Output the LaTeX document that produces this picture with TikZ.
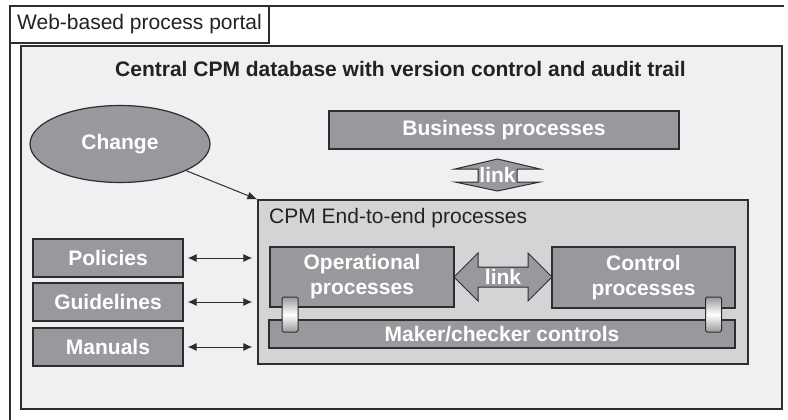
\documentclass[tikz,border=0pt]{standalone}
\usepackage{fontspec}
\setmainfont{Liberation Sans}
\usetikzlibrary{arrows.meta}
\usetikzlibrary{shapes.geometric}

\definecolor{dbgray}{HTML}{EFF0F2}
\definecolor{cpmgray}{HTML}{D3D4D6}
\definecolor{boxgray}{HTML}{98999C}
\definecolor{edgegray}{HTML}{2E2E2E}
\definecolor{textgray}{HTML}{222222}

\begin{document}
\begin{tikzpicture}[x=1pt, y=-1pt,
    every node/.style={font=\fontsize{21}{25}\selectfont, text=textgray, inner sep=0pt},
    darkbox/.style={rectangle, draw=edgegray, fill=boxgray, line width=1.2pt, text=white,
      font=\fontsize{21}{25}\selectfont\bfseries, align=center},
    hinge/.style={rectangle, draw=edgegray, line width=1pt, rounded corners=1.5pt,
      top color=gray!80, bottom color=gray!80, middle color=white,
      minimum width=16, minimum height=35},
    linkshape/.style={draw=edgegray, fill=boxgray, line width=1pt, line join=miter},
    linktext/.style={text=white, font=\fontsize{21}{25}\selectfont\bfseries},
    docarrow/.style={{Latex[length=9pt,width=8pt]}-{Latex[length=9pt,width=8pt]}, line width=1pt, edgegray}]
    \useasboundingbox (0,0) rectangle (788,420);

    % portal frame and database
    \draw[edgegray, line width=1.3pt] (10,425) -- (10,6) -- (784,6);
    \node[rectangle, draw=edgegray, fill=dbgray, line width=1.3pt, minimum width=761, minimum height=363] (db) at (401.5,227.5) {};
    \node[rectangle, draw=edgegray, fill=white, line width=1.3pt, minimum width=259, minimum height=37] (portal) at (139.5,24.5) {Web-based process portal};
    \node[anchor=base, font=\fontsize{21}{25}\selectfont\bfseries] (dbtitle) at (400.5,77) {Central CPM database with version control and audit trail};

    \node[ellipse, draw=edgegray, fill=boxgray, line width=1.2pt, minimum width=180, minimum height=77, text=white, font=\fontsize{21}{25}\selectfont\bfseries] (change) at (120,144) {Change};
    \node[darkbox, minimum width=350, minimum height=38] (business) at (504,130) {Business processes};

    % link between business and end-to-end
    \draw[linkshape] (455,169) -- (497.5,159) -- (540,169) -- (517,169) -- (517,182) -- (540,182) -- (497.5,191) -- (455,182) -- (478,182) -- (478,169) -- cycle;
    \node[linktext] (toplink) at (497.5,175) {link};

    % end-to-end processes
    \node[rectangle, draw=edgegray, fill=cpmgray, line width=1.2pt, minimum width=490, minimum height=164] (cpm) at (503,282) {};
    \node[anchor=base west] (cpmtitle) at (269,223) {CPM End-to-end processes};

    \node[darkbox, minimum width=184, minimum height=60] (oper) at (362,277) {Operational\\processes};
    \node[darkbox, minimum width=183, minimum height=61] (ctrl) at (643.5,277.5) {Control\\processes};
    \node[darkbox, minimum width=466, minimum height=28] (maker) at (502,334) {Maker/checker controls};

    \draw[linkshape] (454,277) -- (478,253) -- (478,267) -- (528,267) -- (528,253) -- (552,277) -- (528,301) -- (528,287) -- (478,287) -- (478,301) -- cycle;
    \node[linktext] (midlink) at (503,277) {link};

    \node[hinge] (lefthinge) at (290,314.5) {};
    \node[hinge] (righthinge) at (713.5,314.5) {};

    % documents
    \node[darkbox, minimum width=150, minimum height=38] (policies) at (108,258) {Policies};
    \node[darkbox, minimum width=150, minimum height=38] (guidelines) at (108,302) {Guidelines};
    \node[darkbox, minimum width=150, minimum height=38] (manuals) at (108,347) {Manuals};

    \draw[docarrow, shorten <=4pt, shorten >=5pt] (policies.east) -- (policies.east -| cpm.west);
    \draw[docarrow, shorten <=4pt, shorten >=5pt] (guidelines.east) -- (guidelines.east -| cpm.west);
    \draw[docarrow, shorten <=4pt, shorten >=5pt] (manuals.east) -- (manuals.east -| cpm.west);

    \draw[-{Latex[length=10pt,width=8pt]}, line width=1pt, edgegray] (change) -- (cpm.north west);
\end{tikzpicture}
\end{document}
